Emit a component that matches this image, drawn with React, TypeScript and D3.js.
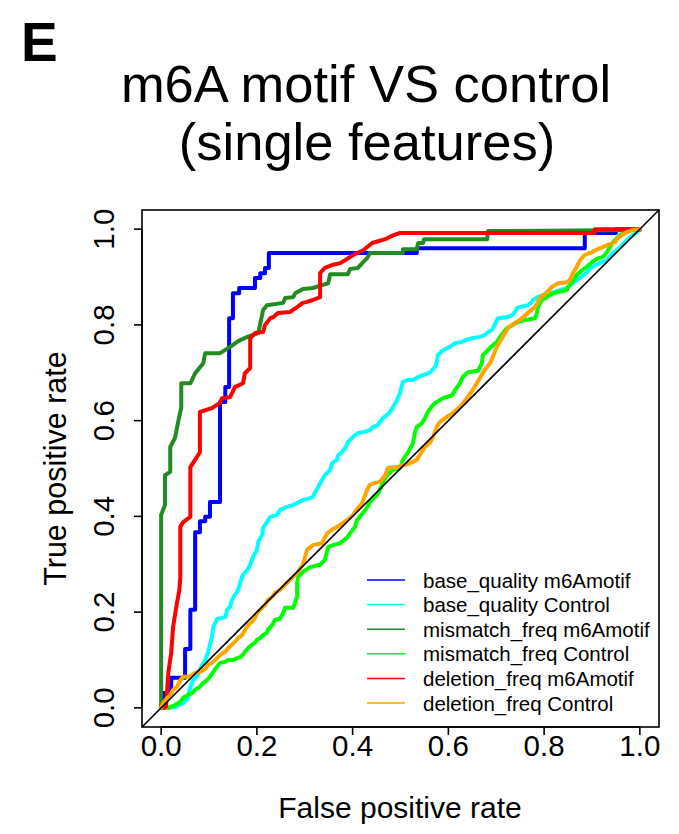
import React from "react";
import * as d3 from "d3";

// ROC curves: [false positive rate, true positive rate]
const baseQualityMotif: [number, number][] = [
  [0, 0], [0.004, 0], [0.004, 0.031], [0.021, 0.031], [0.021, 0.063], [0.05, 0.063], [0.05, 0.123],
  [0.061, 0.123], [0.061, 0.205], [0.071, 0.205], [0.071, 0.367], [0.081, 0.367], [0.081, 0.39],
  [0.092, 0.39], [0.092, 0.399], [0.102, 0.399], [0.102, 0.43], [0.123, 0.43], [0.123, 0.639],
  [0.134, 0.639], [0.134, 0.67], [0.142, 0.67], [0.142, 0.814], [0.15, 0.814], [0.15, 0.866],
  [0.163, 0.866], [0.163, 0.877], [0.196, 0.877], [0.196, 0.898], [0.207, 0.898], [0.207, 0.908],
  [0.217, 0.908], [0.217, 0.919], [0.225, 0.919], [0.225, 0.95], [0.534, 0.95], [0.534, 0.96],
  [0.885, 0.96], [0.885, 0.992], [0.95, 0.992], [0.95, 1], [1, 1],
];

const baseQualityControl: [number, number][] = [
  [0, 0], [0.019, 0], [0.029, 0.002], [0.046, 0.01], [0.056, 0.021], [0.061, 0.044], [0.067, 0.058],
  [0.077, 0.069], [0.081, 0.079], [0.086, 0.09], [0.092, 0.1], [0.098, 0.117], [0.102, 0.132],
  [0.106, 0.148], [0.109, 0.169], [0.117, 0.186], [0.127, 0.188], [0.134, 0.19], [0.138, 0.205],
  [0.144, 0.211], [0.148, 0.225], [0.154, 0.236], [0.161, 0.246], [0.165, 0.261], [0.171, 0.278],
  [0.18, 0.288], [0.186, 0.299], [0.192, 0.315], [0.2, 0.33], [0.203, 0.347], [0.211, 0.361],
  [0.213, 0.376], [0.221, 0.388], [0.228, 0.399], [0.242, 0.403], [0.248, 0.413], [0.263, 0.42],
  [0.276, 0.424], [0.284, 0.428], [0.296, 0.434], [0.311, 0.438], [0.317, 0.441], [0.322, 0.451],
  [0.328, 0.461], [0.336, 0.476], [0.342, 0.486], [0.353, 0.497], [0.357, 0.511], [0.367, 0.518],
  [0.37, 0.528], [0.378, 0.534], [0.388, 0.549], [0.39, 0.555], [0.401, 0.566], [0.411, 0.574],
  [0.422, 0.576], [0.436, 0.58], [0.443, 0.587], [0.453, 0.591], [0.457, 0.597], [0.463, 0.605],
  [0.472, 0.612], [0.478, 0.618], [0.484, 0.628], [0.493, 0.643], [0.499, 0.658], [0.505, 0.681],
  [0.516, 0.685], [0.526, 0.685], [0.537, 0.691], [0.547, 0.695], [0.562, 0.701], [0.572, 0.712],
  [0.576, 0.722], [0.578, 0.737], [0.589, 0.747], [0.603, 0.754], [0.614, 0.762], [0.628, 0.764],
  [0.635, 0.768], [0.649, 0.772], [0.666, 0.775], [0.676, 0.779], [0.683, 0.785], [0.691, 0.789],
  [0.697, 0.8], [0.701, 0.81], [0.704, 0.814], [0.722, 0.816], [0.733, 0.82], [0.739, 0.827],
  [0.743, 0.835], [0.749, 0.837], [0.766, 0.841], [0.775, 0.848], [0.777, 0.852], [0.787, 0.858],
  [0.797, 0.862], [0.818, 0.868], [0.848, 0.877], [0.854, 0.883], [0.868, 0.894], [0.875, 0.898],
  [0.889, 0.91], [0.9, 0.921], [0.916, 0.929], [0.931, 0.935], [0.944, 0.95], [0.958, 0.962],
  [0.979, 0.983], [0.994, 0.994], [1, 1],
];

const mismatchMotif: [number, number][] = [
  [0, 0], [0, 0.403], [0.008, 0.424], [0.008, 0.486], [0.019, 0.493], [0.019, 0.545], [0.029, 0.564],
  [0.035, 0.595], [0.042, 0.628], [0.042, 0.678], [0.061, 0.678], [0.071, 0.699], [0.088, 0.72],
  [0.092, 0.741], [0.123, 0.741], [0.144, 0.754], [0.161, 0.766], [0.18, 0.775], [0.203, 0.783],
  [0.213, 0.831], [0.221, 0.841], [0.255, 0.846], [0.259, 0.856], [0.276, 0.858], [0.28, 0.866],
  [0.296, 0.875], [0.317, 0.877], [0.336, 0.883], [0.349, 0.887], [0.353, 0.906], [0.39, 0.906],
  [0.395, 0.917], [0.411, 0.919], [0.42, 0.929], [0.43, 0.939], [0.436, 0.95], [0.505, 0.95],
  [0.505, 0.958], [0.534, 0.958], [0.537, 0.971], [0.547, 0.971], [0.549, 0.979], [0.681, 0.979],
  [0.683, 0.996], [1, 0.998], [1, 1],
];

const mismatchControl: [number, number][] = [
  [0, 0], [0.015, 0], [0.029, 0.006], [0.04, 0.013], [0.046, 0.021], [0.056, 0.027], [0.065, 0.031],
  [0.071, 0.038], [0.077, 0.042], [0.081, 0.044], [0.088, 0.052], [0.096, 0.058], [0.102, 0.065],
  [0.109, 0.075], [0.117, 0.086], [0.123, 0.094], [0.134, 0.096], [0.14, 0.1], [0.15, 0.1],
  [0.159, 0.104], [0.165, 0.106], [0.171, 0.111], [0.175, 0.117], [0.182, 0.125], [0.19, 0.132],
  [0.196, 0.136], [0.2, 0.142], [0.207, 0.146], [0.213, 0.152], [0.221, 0.157], [0.223, 0.163],
  [0.232, 0.173], [0.238, 0.184], [0.248, 0.186], [0.255, 0.198], [0.259, 0.209], [0.276, 0.209],
  [0.28, 0.221], [0.284, 0.232], [0.284, 0.261], [0.286, 0.273], [0.296, 0.284], [0.311, 0.294],
  [0.332, 0.299], [0.342, 0.309], [0.349, 0.336], [0.359, 0.34], [0.374, 0.344], [0.388, 0.355],
  [0.395, 0.365], [0.405, 0.378], [0.409, 0.392], [0.415, 0.399], [0.43, 0.418], [0.436, 0.43],
  [0.451, 0.445], [0.457, 0.455], [0.463, 0.47], [0.472, 0.486], [0.484, 0.497], [0.499, 0.501],
  [0.505, 0.518], [0.516, 0.534], [0.526, 0.553], [0.53, 0.574], [0.534, 0.587], [0.545, 0.595],
  [0.551, 0.605], [0.557, 0.618], [0.568, 0.633], [0.576, 0.639], [0.589, 0.647], [0.608, 0.653],
  [0.614, 0.664], [0.624, 0.678], [0.63, 0.691], [0.641, 0.701], [0.662, 0.704], [0.67, 0.72],
  [0.672, 0.737], [0.687, 0.752], [0.701, 0.764], [0.708, 0.775], [0.722, 0.793], [0.735, 0.8],
  [0.745, 0.806], [0.76, 0.81], [0.781, 0.814], [0.785, 0.825], [0.787, 0.837], [0.795, 0.852],
  [0.806, 0.858], [0.818, 0.866], [0.827, 0.868], [0.848, 0.873], [0.85, 0.879], [0.858, 0.889],
  [0.868, 0.904], [0.879, 0.914], [0.889, 0.921], [0.9, 0.931], [0.912, 0.939], [0.923, 0.942],
  [0.931, 0.952], [0.937, 0.962], [0.944, 0.973], [0.958, 0.987], [0.979, 0.998], [1, 1],
];

const deletionMotif: [number, number][] = [
  [0, 0], [0.004, 0], [0.01, 0.002], [0.013, 0.044], [0.015, 0.073], [0.021, 0.115], [0.023, 0.142],
  [0.025, 0.169], [0.033, 0.219], [0.038, 0.246], [0.04, 0.273], [0.04, 0.378], [0.046, 0.388],
  [0.061, 0.399], [0.061, 0.503], [0.081, 0.534], [0.081, 0.618], [0.106, 0.626], [0.123, 0.637],
  [0.127, 0.647], [0.144, 0.649], [0.154, 0.67], [0.171, 0.678], [0.175, 0.699], [0.186, 0.71],
  [0.186, 0.772], [0.196, 0.783], [0.213, 0.785], [0.217, 0.8], [0.228, 0.814], [0.234, 0.816],
  [0.244, 0.825], [0.269, 0.827], [0.284, 0.837], [0.296, 0.846], [0.305, 0.848], [0.317, 0.852],
  [0.332, 0.858], [0.332, 0.908], [0.342, 0.919], [0.357, 0.925], [0.374, 0.929], [0.384, 0.935],
  [0.401, 0.946], [0.422, 0.956], [0.441, 0.971], [0.468, 0.979], [0.484, 0.987], [0.499, 0.992],
  [0.906, 0.992], [0.906, 1], [1, 1],
];

const deletionControl: [number, number][] = [
  [0, 0], [0.004, 0.01], [0.013, 0.021], [0.019, 0.027], [0.025, 0.038], [0.033, 0.044], [0.04, 0.058],
  [0.046, 0.065], [0.056, 0.065], [0.065, 0.069], [0.071, 0.073], [0.081, 0.075], [0.092, 0.081],
  [0.098, 0.09], [0.106, 0.094], [0.113, 0.1], [0.119, 0.106], [0.127, 0.113], [0.134, 0.117],
  [0.14, 0.125], [0.148, 0.132], [0.154, 0.138], [0.161, 0.146], [0.169, 0.152], [0.175, 0.163],
  [0.182, 0.173], [0.19, 0.18], [0.196, 0.188], [0.2, 0.198], [0.207, 0.205], [0.217, 0.215],
  [0.223, 0.225], [0.232, 0.232], [0.238, 0.24], [0.248, 0.246], [0.269, 0.267], [0.284, 0.282],
  [0.296, 0.299], [0.305, 0.33], [0.317, 0.34], [0.336, 0.344], [0.347, 0.365], [0.357, 0.372],
  [0.374, 0.382], [0.388, 0.392], [0.401, 0.403], [0.411, 0.418], [0.42, 0.428], [0.43, 0.455],
  [0.436, 0.466], [0.447, 0.47], [0.457, 0.472], [0.468, 0.486], [0.474, 0.501], [0.493, 0.503],
  [0.52, 0.511], [0.534, 0.518], [0.551, 0.545], [0.562, 0.555], [0.568, 0.566], [0.576, 0.587],
  [0.582, 0.597], [0.597, 0.608], [0.61, 0.616], [0.628, 0.633], [0.639, 0.647], [0.651, 0.664],
  [0.666, 0.689], [0.676, 0.706], [0.687, 0.72], [0.693, 0.733], [0.701, 0.754], [0.712, 0.772],
  [0.724, 0.793], [0.739, 0.804], [0.754, 0.814], [0.766, 0.825], [0.781, 0.837], [0.791, 0.856],
  [0.806, 0.868], [0.816, 0.879], [0.829, 0.887], [0.848, 0.889], [0.854, 0.894], [0.86, 0.908],
  [0.868, 0.921], [0.875, 0.935], [0.885, 0.946], [0.9, 0.952], [0.916, 0.96], [0.933, 0.967],
  [0.948, 0.973], [0.954, 0.981], [0.962, 0.987], [0.973, 0.994], [0.985, 0.998], [1, 1],
];

const seriesLabels = [
  "base_quality m6Amotif",
  "base_quality Control",
  "mismatch_freq m6Amotif",
  "mismatch_freq Control",
  "deletion_freq m6Amotif",
  "deletion_freq Control",
];
const seriesColors = ["#0000FF", "#00FFFF", "#228B22", "#00FF00", "#FF0000", "#FFA500"];
const seriesData = [
  baseQualityMotif,
  baseQualityControl,
  mismatchMotif,
  mismatchControl,
  deletionMotif,
  deletionControl,
];

const ticks = [0, 0.2, 0.4, 0.6, 0.8, 1.0];

const FONT = "'Liberation Sans', Arial, Helvetica, sans-serif";

export default function App() {
  const W = 679;
  const H = 834;
  const left = 142;
  const right = 659;
  const top = 210;
  const bottom = 727;

  const x = d3.scaleLinear().domain([-0.04, 1.04]).range([left, right]);
  const y = d3.scaleLinear().domain([-0.04, 1.04]).range([bottom, top]);

  const line = d3
    .line<[number, number]>()
    .x((d) => x(d[0]))
    .y((d) => y(d[1]));

  const legendX = 367;
  const legendY0 = 580;
  const legendStep = 24.6;

  return (
    <svg
      width={W}
      height={H}
      viewBox={`0 0 ${W} ${H}`}
      style={{ display: "block", position: "absolute", left: 0, top: 0, background: "#fff" }}
      fontFamily={FONT}
    >
      <rect x={0} y={0} width={W} height={H} fill="#fff" />

      {/* panel letter */}
      <text x={21} y={61} fontSize={55} fontWeight="bold" fill="#000">
        E
      </text>

      {/* title */}
      <text x={366} y={102} fontSize={52.5} textAnchor="middle" fill="#000">
        m6A motif VS control
      </text>
      <text x={367} y={160} fontSize={52.5} textAnchor="middle" fill="#000">
        (single features)
      </text>

      {/* curves */}
      <g fill="none" strokeWidth={4} strokeLinejoin="round" strokeLinecap="round">
        {seriesData.map((d, i) => (
          <path key={seriesLabels[i]} d={line(d) ?? ""} stroke={seriesColors[i]} />
        ))}
      </g>

      {/* chance diagonal */}
      <line
        x1={x(-0.04)}
        y1={y(-0.04)}
        x2={x(1.04)}
        y2={y(1.04)}
        stroke="#000"
        strokeWidth={1.6}
      />

      {/* plot box */}
      <rect
        x={left}
        y={top}
        width={right - left}
        height={bottom - top}
        fill="none"
        stroke="#000"
        strokeWidth={1.6}
      />

      {/* x axis */}
      <g stroke="#000" strokeWidth={1.6}>
        <line x1={x(0)} x2={x(1)} y1={bottom} y2={bottom} />
        {ticks.map((t) => (
          <line key={t} x1={x(t)} x2={x(t)} y1={bottom} y2={bottom + 8} />
        ))}
      </g>
      {ticks.map((t) => (
        <text
          key={t}
          x={x(t)}
          y={756}
          fontSize={29.5}
          textAnchor="middle"
          fill="#000"
        >
          {t.toFixed(1)}
        </text>
      ))}
      <text x={400} y={818} fontSize={30} textAnchor="middle" fill="#000">
        False positive rate
      </text>

      {/* y axis */}
      <g stroke="#000" strokeWidth={1.6}>
        <line x1={left} x2={left} y1={y(0)} y2={y(1)} />
        {ticks.map((t) => (
          <line key={t} x1={left} x2={left - 8} y1={y(t)} y2={y(t)} />
        ))}
      </g>
      {ticks.map((t) => (
        <text
          key={t}
          transform={`translate(114, ${y(t)}) rotate(-90)`}
          fontSize={29.5}
          textAnchor="middle"
          fill="#000"
        >
          {t.toFixed(1)}
        </text>
      ))}
      <text
        transform={`translate(66, ${(top + bottom) / 2}) rotate(-90)`}
        fontSize={30.5}
        textAnchor="middle"
        fill="#000"
      >
        True positive rate
      </text>

      {/* legend */}
      {seriesLabels.map((label, i) => {
        const ly = legendY0 + i * legendStep;
        return (
          <g key={label}>
            <line
              x1={legendX}
              x2={legendX + 38}
              y1={ly}
              y2={ly}
              stroke={seriesColors[i]}
              strokeWidth={1.5}
            />
            <text
              x={legendX + 56}
              y={ly}
              fontSize={20.5}
              dominantBaseline="central"
              fill="#000"
            >
              {label}
            </text>
          </g>
        );
      })}
    </svg>
  );
}
